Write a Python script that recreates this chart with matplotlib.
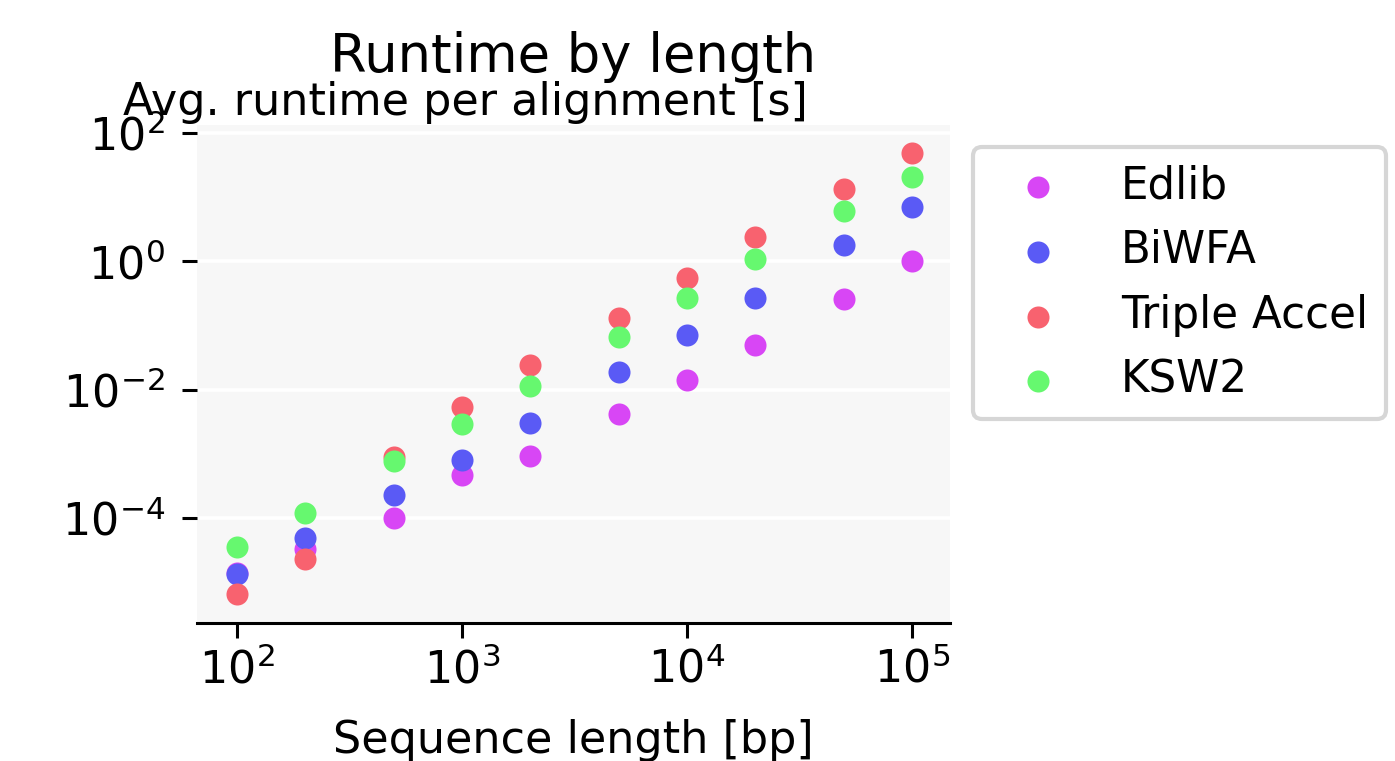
import matplotlib
matplotlib.use("Agg")
import matplotlib.pyplot as plt
from matplotlib.ticker import NullLocator

# sequence lengths and average runtime per alignment (s)
lengths = [100, 200, 500, 1000, 2000, 5000, 10000, 20000, 50000, 100000]
edlib = [1.4e-5, 3.3e-5, 1.0e-4, 4.7e-4, 9.3e-4, 4.1e-3, 1.4e-2, 5.0e-2, 0.26, 1.0]
biwfa = [1.33e-5, 4.9e-5, 2.3e-4, 8.1e-4, 3.0e-3, 1.85e-2, 7.2e-2, 0.27, 1.78, 6.9]
triple_accel = [6.5e-6, 2.3e-5, 8.9e-4, 5.4e-3, 2.4e-2, 0.129, 0.54, 2.37, 13.3, 48.7]
ksw2 = [3.5e-5, 1.2e-4, 7.8e-4, 2.9e-3, 1.15e-2, 6.7e-2, 0.27, 1.07, 6.0, 20.5]

series = [
    ("Edlib", edlib, "#d846f5"),
    ("BiWFA", biwfa, "#5a5af5"),
    ("Triple Accel", triple_accel, "#f8626f"),
    ("KSW2", ksw2, "#66f86f"),
]

W, H = 1395, 761
fig = plt.figure(figsize=(W / 200, H / 200), dpi=200)
ax = fig.add_axes([197 / W, 1 - 623 / H, 753 / W, 498 / H])
ax.set_facecolor("#f7f7f7")

for name, vals, col in series:
    ax.scatter(lengths, vals, s=63, color=col, linewidths=0, label=name, zorder=3)

ax.set_xscale("log")
ax.set_yscale("log")
ax.set_xlim(10 ** 1.822, 10 ** 5.169)
ax.set_ylim(10 ** -5.64, 10 ** 2.125)
ax.set_xticks([1e2, 1e3, 1e4, 1e5])
ax.set_yticks([1e-4, 1e-2, 1e0, 1e2])
ax.xaxis.set_minor_locator(NullLocator())
ax.yaxis.set_minor_locator(NullLocator())

ax.grid(True, axis="y", color="white", linewidth=1.3, zorder=0)
ax.set_axisbelow(True)
for side in ["top", "right", "left"]:
    ax.spines[side].set_visible(False)
ax.spines["bottom"].set_linewidth(1.1)
ax.tick_params(axis="both", labelsize=16, length=5.5, width=1.1)
ax.tick_params(axis="y", pad=6)

ax.set_xlabel("Sequence length [bp]", fontsize=16, labelpad=9.5)
ax.set_ylabel("Avg. runtime per alignment [s]", fontsize=16, rotation=0,
              ha="left", va="baseline")
ax.yaxis.set_label_coords(-0.0983, 1.0201)
ax.set_title("Runtime by length", fontsize=19, pad=19)

leg = ax.legend(loc="upper left", bbox_to_anchor=(1.0305, 0.956), borderaxespad=0,
                fontsize=15.7, scatterpoints=1, handlelength=2.2, handletextpad=0.8,
                labelspacing=0.5, frameon=True, fancybox=True)
leg.get_frame().set_edgecolor("#cccccc")
leg.get_frame().set_linewidth(1.5)

fig.savefig("out.png", dpi=200)
